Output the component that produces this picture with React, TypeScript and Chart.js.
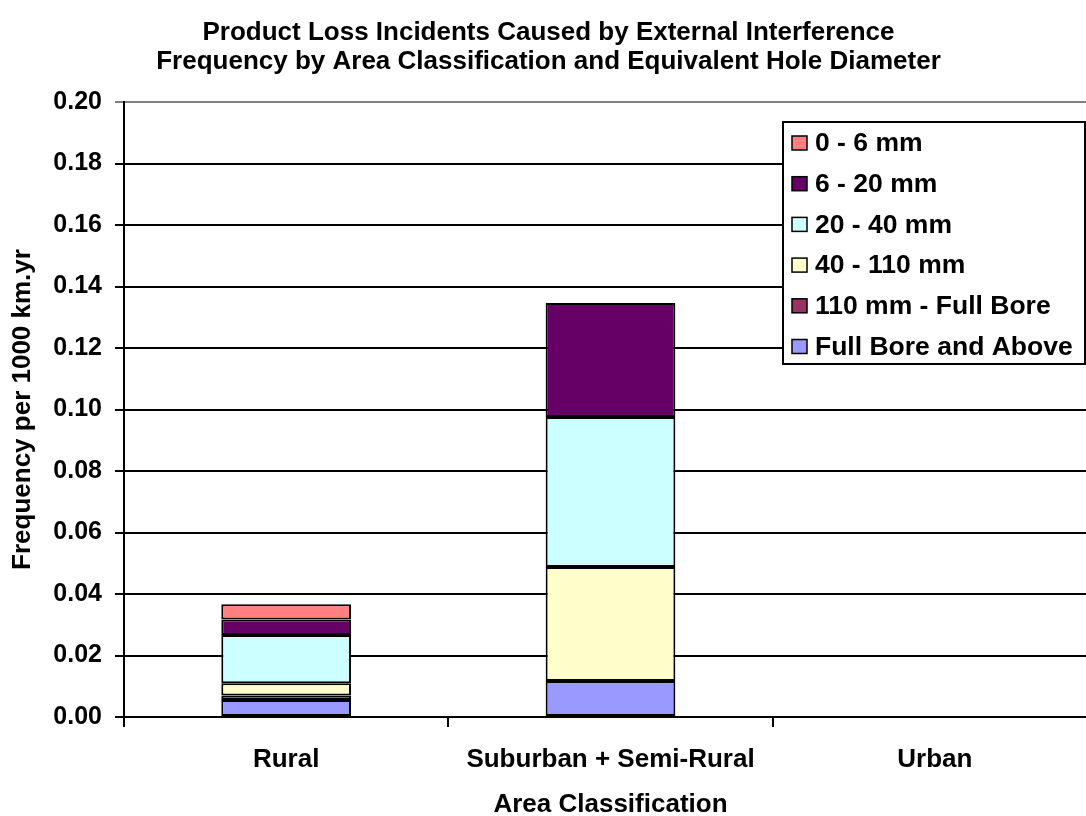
import React, { useEffect, useRef } from "react";
import { Chart, registerables } from "chart.js";

Chart.register(...registerables);

const categories = ["Rural", "Suburban + Semi-Rural", "Urban"];
const seriesNames = ["0 - 6 mm", "6 - 20 mm", "20 - 40 mm", "40 - 110 mm", "110 mm - Full Bore", "Full Bore and Above"];
const v0to6 = [0.005, 0, 0];
const v6to20 = [0.005, 0.037, 0];
const v20to40 = [0.0157, 0.0488, 0];
const v40to110 = [0.004, 0.0371, 0];
const v110toFull = [0.0015, 0, 0];
const vFullAbove = [0.0055, 0.0117, 0];
const seriesColors = ["#FF8080", "#660066", "#CCFFFF", "#FFFFCC", "#993366", "#9999FF"];
const titleLines = [
  "Product Loss Incidents Caused by External Interference",
  "Frequency by Area Classification and Equivalent Hole Diameter",
];
const yTitle = "Frequency per 1000 km.yr";
const xTitle = "Area Classification";

const FONT = "'Liberation Sans', Arial, Helvetica, sans-serif";

const insideLegend = {
  id: "insideLegend",
  afterDraw(chart: any) {
    const ctx = chart.ctx;
    const x0 = 783, y0 = 122, w = 302, h = 242;
    ctx.save();
    ctx.fillStyle = "#FFFFFF";
    ctx.fillRect(x0, y0, w, h);
    ctx.strokeStyle = "#000000";
    ctx.lineWidth = 2;
    ctx.strokeRect(x0, y0, w, h);
    const ds = chart.data.datasets.slice().reverse();
    ctx.font = `bold 26.5px ${FONT}`;
    ctx.textBaseline = "middle";
    ds.forEach((d: any, i: number) => {
      const cy = 143 + i * 40.7;
      ctx.fillStyle = d.backgroundColor;
      ctx.fillRect(792, cy - 7, 15, 14);
      ctx.lineWidth = 1.5;
      ctx.strokeStyle = "#000";
      ctx.strokeRect(792, cy - 7, 15, 14);
      ctx.fillStyle = "#000";
      ctx.textAlign = "left";
      ctx.fillText(d.label, 815, cy + 1);
    });
    ctx.restore();
  },
};

export default function App() {
  const ref = useRef<HTMLCanvasElement | null>(null);
  useEffect(() => {
    document.body.style.margin = "0";
    document.body.style.overflow = "hidden";
    const canvas = ref.current!;
    const valueArrays = [vFullAbove, v110toFull, v40to110, v20to40, v6to20, v0to6];
    const names = seriesNames.slice().reverse();
    const colors = seriesColors.slice().reverse();
    const chart = new Chart(canvas, {
      type: "bar",
      data: {
        labels: categories,
        datasets: valueArrays.map((vals, i) => ({
          label: names[i],
          data: vals,
          backgroundColor: colors[i],
          borderColor: "#000000",
          borderWidth: 2,
          borderSkipped: false,
          barPercentage: 0.4,
          categoryPercentage: 1,
        })),
      },
      options: {
        animation: false,
        responsive: false,
        devicePixelRatio: 1,
        layout: { padding: { left: 0, right: 3, top: 0, bottom: 0 } },
        plugins: {
          legend: { display: false },
          tooltip: { enabled: false },
          title: {
            display: true,
            text: titleLines,
            color: "#000",
            font: { family: FONT, size: 26, weight: "bold", lineHeight: "29px" },
            padding: { top: 18.5, bottom: 25.5 },
          },
        },
        scales: {
          x: {
            stacked: true,
            grid: {
              offset: true,
              drawOnChartArea: false,
              drawTicks: true,
              tickLength: 10,
              color: "#000",
              lineWidth: 2,
            },
            border: { color: "#000", width: 2 },
            ticks: {
              color: "#000",
              padding: 17,
              font: { family: FONT, size: 26, weight: "bold" },
            },
            title: {
              display: true,
              text: xTitle,
              color: "#000",
              font: { family: FONT, size: 26, weight: "bold", lineHeight: "22px" },
              padding: { top: 10, bottom: 0 },
            },
            afterFit(scale: any) {
              scale.height = 99;
            },
          },
          y: {
            stacked: true,
            min: 0,
            max: 0.2,
            grid: {
              color: (c: any) => (c.tick && c.tick.value >= 0.199 ? "#808080" : "#000"),
              lineWidth: 2,
              tickLength: 9,
              drawTicks: true,
            },
            border: { color: "#000", width: 2 },
            ticks: {
              stepSize: 0.02,
              color: "#000",
              padding: 13,
              font: { family: FONT, size: 25, weight: "bold" },
              callback: (v: any) => Number(v).toFixed(2),
            },
            title: {
              display: true,
              text: yTitle,
              color: "#000",
              font: { family: FONT, size: 26, weight: "bold" },
              padding: { top: 7, bottom: 0 },
            },
            afterFit(scale: any) {
              scale.width = 124;
            },
          },
        },
      },
      plugins: [insideLegend],
    });
    return () => chart.destroy();
  }, []);
  return (
    <div style={{ width: 1086, height: 816, overflow: "hidden", position: "relative", background: "#fff" }}>
      <canvas ref={ref} width={1100} height={816} style={{ width: 1100, height: 816, display: "block" }} />
    </div>
  );
}
